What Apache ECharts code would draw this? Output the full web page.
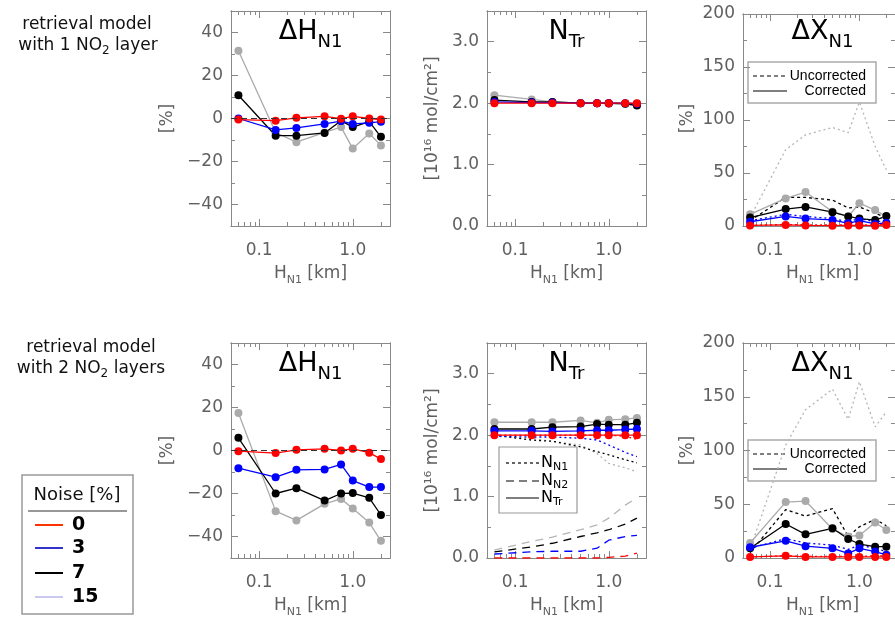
<!DOCTYPE html>
<html>
<head>
<meta charset="UTF-8">
<title>NO2 layer height retrieval</title>
<script src="https://cdn.jsdelivr.net/npm/echarts@6/dist/echarts.min.js"></script>
<style>
  html, body { margin: 0; height: 100%; background: #fff; }
  #main { width: 895px; height: 618px; }
</style>
</head>
<body>
<div id="main"></div>
<script>
// layer height of the first NO2 layer [km]
const hN1 = [0.06, 0.15, 0.25, 0.5, 0.75, 1.0, 1.5, 2.0];
const noiseLevels = ['0', '3', '7', '15'];
const xMajor = [0.1, 1];

// top row: retrieval with 1 NO2 layer
const dH1_n0  = [-0.5, -1, 0.3, 1, -0.1, 1, 0, -0.5];
const dH1_n3  = [0, -5.3, -4.4, -2.5, -1.2, -2.5, -2, -1.5];
const dH1_n7  = [10.8, -8, -8, -6.7, -1, -4, -1.5, -8.5];
const dH1_n15 = [31.5, -6.5, -11, -6.5, -4, -14, -7, -12.5];

const nTr1_n0  = [2.0, 2.0, 2.0, 2.0, 2.0, 2.0, 2.0, 2.0];
const nTr1_n3  = [2.02, 2.01, 2.01, 2.0, 2.0, 2.0, 2.0, 1.99];
const nTr1_n7  = [2.05, 2.02, 2.02, 2.0, 2.0, 2.0, 1.99, 1.96];
const nTr1_n15 = [2.13, 2.06, 2.02, 2.0, 2.0, 1.99, 1.99, 1.97];

const dX1_n0  = [0.5, 1, 0.5, 0.3, 0.5, 0.5, 0.3, 1];
const dX1_n3  = [4, 9, 7, 5.7, 2.5, 5, 2, 3];
const dX1_n7  = [8, 16, 18, 13, 9, 7, 5.6, 9.4];
const dX1_n15 = [11, 26, 32, 13.5, 9, 21.5, 15, 9];
const dX1u_n0  = [0.5, 1.5, 1, 1, 1, 1, 1, 1.5];
const dX1u_n3  = [5, 11, 9, 7, 4, 7, 4, 5];
const dX1u_n7  = [5, 27, 27, 24.5, 17, 18, 12, 8];
const dX1u_n15 = [8, 72, 86, 93, 88, 117, 75, 53];

// bottom row: retrieval with 2 NO2 layers
const dH2_n0  = [-0.3, -1.2, 0.3, 0.8, 0, 0.8, -1, -4];
const dH2_n3  = [-8.2, -12.4, -9, -8.8, -6.5, -14, -17, -17];
const dH2_n7  = [5.9, -20, -17.5, -23.3, -20, -19.8, -22, -30];
const dH2_n15 = [17.4, -28.2, -32.5, -24.8, -22.5, -27, -33.5, -42];

const nTr2_n0  = [2.0, 2.0, 2.0, 2.0, 2.0, 2.0, 2.0, 2.0];
const nTr2_n3  = [2.07, 2.07, 2.06, 2.07, 2.08, 2.08, 2.09, 2.1];
const nTr2_n7  = [2.1, 2.1, 2.13, 2.14, 2.18, 2.17, 2.17, 2.2];
const nTr2_n15 = [2.21, 2.21, 2.21, 2.24, 2.2, 2.25, 2.26, 2.28];
const nN1_n0  = [2.0, 2.0, 2.0, 2.0, 2.0, 2.0, 1.98, 1.93];
const nN1_n3  = [1.98, 1.97, 1.97, 1.95, 1.92, 1.84, 1.72, 1.65];
const nN1_n7  = [2.0, 1.92, 1.9, 1.81, 1.73, 1.68, 1.6, 1.55];
const nN1_n15 = [2.0, 1.95, 1.9, 1.84, 1.7, 1.54, 1.47, 1.4];
const nN2_n0  = [0.0, 0.0, 0.0, 0.0, 0.0, 0.01, 0.03, 0.08];
const nN2_n3  = [0.065, 0.1, 0.11, 0.11, 0.16, 0.29, 0.35, 0.37];
const nN2_n7  = [0.1, 0.18, 0.24, 0.35, 0.41, 0.46, 0.55, 0.65];
const nN2_n15 = [0.13, 0.27, 0.34, 0.46, 0.54, 0.65, 0.86, 0.98];

const dX2_n0  = [1, 2, 1, 1, 1, 1, 1, 1];
const dX2_n3  = [10, 16, 11, 9, 4.3, 9, 6, 3];
const dX2_n7  = [9, 31.6, 22, 27.6, 17.7, 13, 10.5, 10.5];
const dX2_n15 = [14, 52, 53, 27, 20, 21, 33, 26];
const dX2u_n0  = [1, 2, 1.5, 1.5, 1.5, 1.5, 2, 2];
const dX2u_n3  = [9, 18, 14, 12, 8, 12, 9, 6];
const dX2u_n7  = [5, 45, 39, 46, 20, 29, 36, 30];
const dX2u_n15 = [8, 105, 138, 157, 129, 164, 122, 136];

const RED = '#ff0000', BLUE = '#0000ff', BLACK = '#000000', GRAY = '#aaaaaa';
const AX = '#888888', LBL = '#606060';
const FONT = 'DejaVu Sans';

// panel frames
const panels = [
  { left: 231, top: 11,  height: 215, ymin: -50, ymax: 50,  major: 20, minor: 10,  dec: 0 },
  { left: 487, top: 11,  height: 215, ymin: 0,   ymax: 3.5, major: 1,  minor: 0.5, dec: 1 },
  { left: 743, top: 14,  height: 212, ymin: 0,   ymax: 200, major: 50, minor: 25,  dec: 0 },
  { left: 231, top: 343, height: 215, ymin: -50, ymax: 50,  major: 20, minor: 10,  dec: 0 },
  { left: 487, top: 343, height: 215, ymin: 0,   ymax: 3.5, major: 1,  minor: 0.5, dec: 1 },
  { left: 743, top: 343, height: 215, ymin: 0,   ymax: 200, major: 50, minor: 25,  dec: 0 }
];
const PW = 159;

function steps(a, b, st) {
  const out = [];
  const n = Math.round((b - a) / st);
  for (let i = 0; i <= n; i++) out.push(+(a + i * st).toFixed(6));
  return out;
}
const xMinor = [];
[0.01, 0.1, 1].forEach(d => {
  for (let k = 2; k <= 9; k++) {
    const v = +(k * d).toFixed(4);
    if (v >= 0.05 && v <= 2.5) xMinor.push(v);
  }
});

const grids = [], xAxes = [], yAxes = [];

function logAxis(g, pos, labels, ticks, len) {
  return {
    type: 'log', logBase: 10, gridIndex: g, position: pos, min: 0.05, max: 2.5,
    axisLine: { show: true, onZero: false, lineStyle: { color: AX, width: 1 } },
    axisTick: { show: true, inside: true, length: len, customValues: ticks, lineStyle: { color: AX } },
    axisLabel: {
      show: labels, customValues: xMajor, margin: 16, color: LBL, fontSize: 17, fontFamily: FONT,
      formatter: v => (v >= 1 ? Number(v).toFixed(1) : String(+Number(v).toFixed(2)))
    },
    splitLine: { show: false }
  };
}
function valAxis(g, p, pos, labels, ticks, len) {
  const majors = steps(Math.ceil(p.ymin / p.major) * p.major, p.ymax, p.major)
    .filter(v => v <= p.ymax + 1e-9);
  return {
    type: 'value', gridIndex: g, position: pos, min: p.ymin, max: p.ymax,
    axisLine: { show: true, onZero: false, lineStyle: { color: AX, width: 1 } },
    axisTick: { show: true, inside: true, length: len, customValues: ticks, lineStyle: { color: AX } },
    axisLabel: {
      show: labels, customValues: majors, margin: 8, color: LBL, fontSize: 17, fontFamily: FONT,
      formatter: v => (v < 0 ? '\u2212' : '') + Math.abs(v).toFixed(p.dec)
    },
    splitLine: { show: false }
  };
}

panels.forEach((p, g) => {
  grids.push({ left: p.left, top: p.top, width: PW, height: p.height });
  xAxes.push(logAxis(g, 'bottom', true, xMajor, 7));
  xAxes.push(logAxis(g, 'bottom', false, xMinor, 4));
  xAxes.push(logAxis(g, 'top', false, xMajor, 7));
  xAxes.push(logAxis(g, 'top', false, xMinor, 4));
  const majors = steps(Math.ceil(p.ymin / p.major) * p.major, p.ymax, p.major);
  const minors = steps(p.ymin, p.ymax, p.minor);
  yAxes.push(valAxis(g, p, 'left', true, majors, 7));
  yAxes.push(valAxis(g, p, 'left', false, minors, 4));
  yAxes.push(valAxis(g, p, 'right', false, majors, 7));
  yAxes.push(valAxis(g, p, 'right', false, minors, 4));
});

function pts(ys) { return hN1.map((h, i) => [h, ys[i]]); }

function solid(g, ys, color, extra) {
  return Object.assign({
    type: 'line', xAxisIndex: 4 * g, yAxisIndex: 4 * g, data: pts(ys),
    symbol: 'circle', symbolSize: 8, silent: true,
    lineStyle: { color: color, width: 1.3 }, itemStyle: { color: color }
  }, extra || {});
}
function broken(g, ys, color, dash) {
  return {
    type: 'line', xAxisIndex: 4 * g, yAxisIndex: 4 * g, data: pts(ys),
    symbol: 'none', silent: true,
    lineStyle: { color: color, width: 1.3, type: dash }
  };
}
const zeroLine = {
  markLine: {
    silent: true, symbol: 'none', label: { show: false },
    lineStyle: { color: '#333', type: [6, 4], width: 1 },
    data: [{ yAxis: 0 }]
  }
};

const series = [
  // top ΔH
  solid(0, dH1_n15, GRAY, zeroLine), solid(0, dH1_n7, BLACK), solid(0, dH1_n3, BLUE), solid(0, dH1_n0, RED),
  // top N_Tr
  solid(1, nTr1_n15, GRAY), solid(1, nTr1_n7, BLACK), solid(1, nTr1_n3, BLUE), solid(1, nTr1_n0, RED),
  // top ΔX
  broken(2, dX1u_n15, '#b4b4b4', [2, 3]), broken(2, dX1u_n7, BLACK, [3, 3]),
  broken(2, dX1u_n3, BLUE, [2, 3]), broken(2, dX1u_n0, RED, [2, 3]),
  solid(2, dX1_n15, GRAY), solid(2, dX1_n7, BLACK), solid(2, dX1_n3, BLUE), solid(2, dX1_n0, RED),
  // bottom ΔH
  solid(3, dH2_n15, GRAY, zeroLine), solid(3, dH2_n7, BLACK), solid(3, dH2_n3, BLUE), solid(3, dH2_n0, RED),
  // bottom N_Tr
  broken(4, nN1_n15, '#b4b4b4', [2, 3]), broken(4, nN1_n7, BLACK, [2, 3]),
  broken(4, nN1_n3, BLUE, [2, 3]), broken(4, nN1_n0, RED, [2, 3]),
  broken(4, nN2_n15, '#b4b4b4', [8, 6]), broken(4, nN2_n7, BLACK, [8, 6]),
  broken(4, nN2_n3, BLUE, [8, 6]), broken(4, nN2_n0, RED, [8, 6]),
  solid(4, nTr2_n15, GRAY), solid(4, nTr2_n7, BLACK), solid(4, nTr2_n3, BLUE), solid(4, nTr2_n0, RED),
  // bottom ΔX
  broken(5, dX2u_n15, '#b4b4b4', [2, 3]), broken(5, dX2u_n7, BLACK, [3, 3]),
  broken(5, dX2u_n3, BLUE, [2, 3]), broken(5, dX2u_n0, RED, [2, 3]),
  solid(5, dX2_n15, GRAY), solid(5, dX2_n7, BLACK), solid(5, dX2_n3, BLUE), solid(5, dX2_n0, RED)
];

// ---- text and legends ----
const graphic = [];
function txt(x, y, text, rich, opt) {
  graphic.push(Object.assign({
    type: 'text', x: x, y: y, silent: true,
    style: Object.assign({ text: text, rich: rich, align: 'center', verticalAlign: 'top', fill: '#000' }, (opt && opt.style) || {})
  }, (opt && opt.el) || {}));
}
const titleRich = {
  m: { fontSize: 27, fontFamily: FONT, lineHeight: 38, fill: '#000' },
  s: { fontSize: 18, fontFamily: FONT, lineHeight: 20, verticalAlign: 'bottom', fill: '#000' }
};
const xNameRich = {
  m: { fontSize: 17, fontFamily: FONT, lineHeight: 24, fill: LBL },
  s: { fontSize: 11, fontFamily: FONT, lineHeight: 14, verticalAlign: 'bottom', fill: LBL }
};
const noteRich = {
  m: { fontSize: 17, fontFamily: FONT, lineHeight: 22, fill: '#111' },
  s: { fontSize: 12, fontFamily: FONT, lineHeight: 14, verticalAlign: 'bottom', fill: '#111' }
};
const titles = ['{m|ΔH}{s|N1}', '{m|N}{s|Tr}', '{m|ΔX}{s|N1}'];
const yNames = ['[%]', '[10¹⁶ mol/cm²]', '[%]'];
const yNameX = [168, 433, 688];
panels.forEach((p, g) => {
  const cx = p.left + PW / 2;
  const rowTop = g < 3 ? 11 : 343;
  const rowBot = g < 3 ? 226 : 558;
  txt(cx, rowTop + 2, titles[g % 3], titleRich);
  txt(cx, rowBot + 36, '{m|H}{s|N1}{m| [km]}', xNameRich);
  graphic.push({
    type: 'text', x: yNameX[g % 3], y: (rowTop + rowBot) / 2, rotation: Math.PI / 2, silent: true,
    style: { text: yNames[g % 3], align: 'center', verticalAlign: 'middle', fill: LBL, font: '17px ' + FONT }
  });
});

txt(87, 14, '{m|retrieval model}', noteRich);
txt(88, 35, '{m|with 1 NO}{s|2}{m| layer}', noteRich);
txt(91, 337, '{m|retrieval model}', noteRich);
txt(91, 358, '{m|with 2 NO}{s|2}{m| layers}', noteRich);

// noise legend
graphic.push({ type: 'rect', silent: true, shape: { x: 22, y: 475, width: 111, height: 139 },
  style: { fill: '#fff', stroke: '#999', lineWidth: 1.5 } });
graphic.push({ type: 'text', x: 77, y: 495, silent: true,
  style: { text: 'Noise [%]', align: 'center', verticalAlign: 'middle', fill: '#111', font: '18px ' + FONT } });
graphic.push({ type: 'line', silent: true, shape: { x1: 28, y1: 511, x2: 127, y2: 511 },
  style: { stroke: '#333', lineWidth: 1.2 } });
const legendColors = ['#ff3300', '#3333cc', '#000000', '#c8c8f0'];
const legendY = [525, 548, 573, 597];
noiseLevels.forEach((lv, i) => {
  graphic.push({ type: 'line', silent: true, shape: { x1: 35, y1: legendY[i], x2: 63, y2: legendY[i] },
    style: { stroke: legendColors[i], lineWidth: 2 } });
  graphic.push({ type: 'text', x: 72, y: legendY[i], silent: true,
    style: { text: lv, align: 'left', verticalAlign: 'middle', fill: '#000', font: 'bold 19px ' + FONT } });
});

// corrected / uncorrected legends
[62, 440].forEach(top => {
  graphic.push({ type: 'rect', silent: true, shape: { x: 748, y: top, width: 128, height: 41 },
    style: { fill: '#fff', stroke: '#aaa', lineWidth: 1.5 } });
  graphic.push({ type: 'line', silent: true, shape: { x1: 753, y1: top + 14, x2: 787, y2: top + 14 },
    style: { stroke: '#000', lineWidth: 1.2, lineDash: [4, 3] } });
  graphic.push({ type: 'line', silent: true, shape: { x1: 753, y1: top + 29, x2: 787, y2: top + 29 },
    style: { stroke: '#000', lineWidth: 1.2 } });
  graphic.push({ type: 'text', x: 866, y: top + 14, silent: true,
    style: { text: 'Uncorrected', align: 'right', verticalAlign: 'middle', fill: '#000', font: '14px Liberation Sans' } });
  graphic.push({ type: 'text', x: 866, y: top + 29, silent: true,
    style: { text: 'Corrected', align: 'right', verticalAlign: 'middle', fill: '#000', font: '14px Liberation Sans' } });
});

// column legend in lower N_Tr panel
graphic.push({ type: 'rect', silent: true, shape: { x: 499, y: 447, width: 78, height: 66 },
  style: { fill: '#fff', stroke: '#999', lineWidth: 1.2 } });
const colRich = {
  m: { fontSize: 16, fontFamily: FONT, lineHeight: 20, fill: '#000' },
  s: { fontSize: 11, fontFamily: FONT, lineHeight: 12, verticalAlign: 'bottom', fill: '#000' }
};
[[463, [3, 3], 'N1'], [481, [8, 5], 'N2'], [498, null, 'Tr']].forEach(r => {
  graphic.push({ type: 'line', silent: true, shape: { x1: 506, y1: r[0], x2: 539, y2: r[0] },
    style: { stroke: '#000', lineWidth: 1.2, lineDash: r[1] } });
  graphic.push({ type: 'text', x: 541, y: r[0] - 10, silent: true,
    style: { text: '{m|N}{s|' + r[2] + '}', rich: colRich, align: 'left', verticalAlign: 'top' } });
});

const chart = echarts.init(document.getElementById('main'));
chart.setOption({
  backgroundColor: '#ffffff',
  animation: false,
  grid: grids,
  xAxis: xAxes,
  yAxis: yAxes,
  series: series,
  graphic: graphic
});
</script>
</body>
</html>
